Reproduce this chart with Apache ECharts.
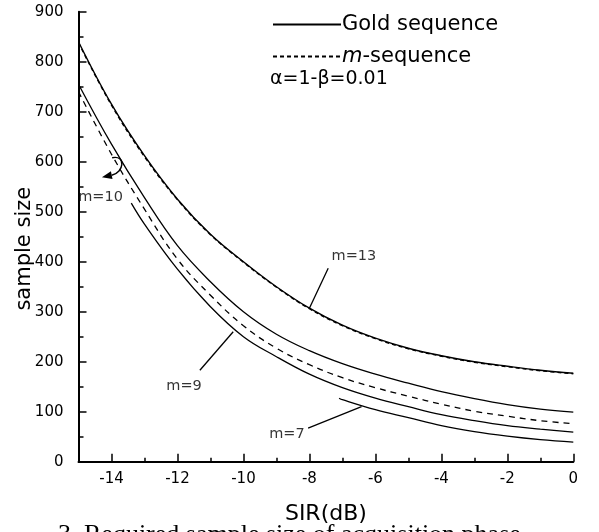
<!DOCTYPE html>
<html>
<head>
<meta charset="utf-8">
<script src="https://cdn.jsdelivr.net/npm/echarts@6/dist/echarts.min.js"></script>
<style>html,body{margin:0;padding:0;background:#fff}#c{width:599px;height:532px}</style>
</head>
<body>
<div id="c"></div>
<script>
// ---- data ----
const sirX      = [-15,-14,-13,-12,-11,-10,-9,-8,-7,-6,-5,-4,-3,-2,-1,0];
const goldM13   = [840,715,612,525,455,400,350,307,273,247,227,212,200,191,183,177];
const mseqM13   = [838,713,610,524,454,399,349,306,272,246,226,211,199,190,182,176];
const goldM10   = [755,635,528,432,360,300,255,222,196,175,157,140,126,114,105,99];
const mseqM10   = [740,615,505,405,333,272,227,194,168,148,131,115,101,91,82,76];
const goldM9X   = [-13.4,-13,-12,-11,-10,-9,-8,-7,-6,-5,-4,-3,-2,-1,0];
const goldM9    = [517,475,385,310,250,210,175,148,127,110,94,82,72,65,59];
const goldM7X   = [-7.1,-7,-6,-5,-4,-3,-2,-1,0];
const goldM7    = [127,124,104,88,72,60,51,44,39];

const xMajorTicks = [-14,-12,-10,-8,-6,-4,-2,0];
const xMinorTicks = [-15,-13,-11,-9,-7,-5,-3,-1];

const annoText  = ['m=13','m=10','m=9','m=7'];
const annoX     = [-6.65,-14.33,-11.8,-8.68];
const annoY     = [410,528,151,55];
// straight arrows (m=13, m=9, m=7), data coordinates
const arrowFromX= [-7.43,-11.32,-8.04];
const arrowFromY= [387,183,67];
const arrowToX  = [-8.0,-10.31,-6.42];
const arrowToY  = [307,260,110];
// hooked arrow (m=10): start, two control points, end, in data coordinates
const hookX     = [-13.98,-13.55,-13.62,-14.29];
const hookY     = [608,614,578,569];

const captionText = '3. Required sample size of acquisition phase';

const FONT = 'DejaVu Sans';
const pair = (xs, ys) => xs.map((x, i) => [x, ys[i]]);

const chart = echarts.init(document.getElementById('c'), null, {renderer:'canvas'});
const lineBase = {type:'line', showSymbol:false, symbol:'none', smooth:0.4, z:3, silent:true, animation:false, color:'#000', itemStyle:{color:'#000'}};

chart.setOption({
  animation:false,
  backgroundColor:'#fff',
  textStyle:{fontFamily:FONT, color:'#000'},
  grid:{left:78.5, right:25.7, top:11.7, bottom:70.3, containLabel:false},
  legend:{
    data:['Gold sequence','m-sequence'],
    orient:'vertical', left:267, top:7, itemWidth:68, itemHeight:14, itemGap:7,
    selectedMode:false,
    itemStyle:{opacity:0},
    formatter: n => n === 'm-sequence' ? '{i|m}-sequence' : n,
    textStyle:{fontFamily:FONT, fontSize:21, color:'#000', lineHeight:25, padding:[0,0,0,-4],
      rich:{i:{fontFamily:FONT, fontSize:21, fontStyle:'italic', color:'#000'}}}
  },
  xAxis:[{
    type:'value', min:-15, max:0,
    name:'SIR(dB)', nameLocation:'middle', nameGap:42, nameMoveOverlap:false,
    nameTextStyle:{fontFamily:FONT, fontSize:22, color:'#000'},
    axisLine:{show:true, onZero:false, lineStyle:{color:'#000', width:2}},
    axisTick:{show:true, inside:true, length:8, lineStyle:{color:'#000', width:1.5}, customValues:xMajorTicks},
    axisLabel:{show:true, margin:10, fontFamily:FONT, fontSize:15, color:'#000', customValues:xMajorTicks},
    splitLine:{show:false}
  },{
    type:'value', min:-15, max:0, position:'bottom',
    axisLine:{show:false},
    axisTick:{show:true, inside:true, length:4, lineStyle:{color:'#000', width:1.5}, customValues:xMinorTicks},
    axisLabel:{show:false},
    splitLine:{show:false}
  }],
  yAxis:{
    type:'value', min:0, max:900, interval:100,
    name:'sample size', nameLocation:'middle', nameGap:43, nameRotate:90, nameMoveOverlap:false,
    nameTextStyle:{fontFamily:FONT, fontSize:21, color:'#000', padding:[0,24,0,0]},
    axisLine:{show:true, onZero:false, lineStyle:{color:'#000', width:2}},
    axisTick:{show:true, inside:true, length:8, lineStyle:{color:'#000', width:1.5}},
    minorTick:{show:true, splitNumber:2, length:5, lineStyle:{color:'#000', width:1.5}},
    axisLabel:{margin:15, fontFamily:FONT, fontSize:15, color:'#000'},
    splitLine:{show:false}
  },
  series:[
    Object.assign({}, lineBase, {name:'Gold sequence', data:pair(sirX, goldM13), lineStyle:{color:'#000', width:1.4, type:'solid'}}),
    Object.assign({}, lineBase, {name:'m-sequence', data:pair(sirX, mseqM13), lineStyle:{color:'#000', width:1.4, type:[4,3]}}),
    Object.assign({}, lineBase, {name:'Gold sequence', data:pair(sirX, goldM10), lineStyle:{color:'#000', width:1.3, type:'solid'}}),
    Object.assign({}, lineBase, {name:'m-sequence', data:pair(sirX, mseqM10), lineStyle:{color:'#000', width:1.3, type:[6,5]}}),
    Object.assign({}, lineBase, {name:'Gold sequence', data:pair(goldM9X, goldM9), lineStyle:{color:'#000', width:1.3, type:'solid'}}),
    Object.assign({}, lineBase, {name:'Gold sequence', data:pair(goldM7X, goldM7), lineStyle:{color:'#000', width:1.3, type:'solid'}}),
    {
      name:'annotations', type:'scatter', symbolSize:0, silent:true, z:5,
      data: annoText.map((t, i) => ({value:[annoX[i], annoY[i]], name:t})),
      label:{show:true, position:'inside', formatter:p => p.name, fontFamily:FONT, fontSize:14.5, color:'#000'},
      markLine:{
        silent:true, symbol:['none','arrow'], symbolSize:[0,9],
        label:{show:false},
        lineStyle:{color:'#000', width:1.3, type:'solid'},
        data: arrowFromX.map((x, i) => [
          {coord:[x, arrowFromY[i]]},
          {coord:[arrowToX[i], arrowToY[i]]}
        ])
      }
    }
  ]
});

// hooked arrow and figure caption, positioned from the chart's own scales
const px = (x, y) => chart.convertToPixel({gridIndex:0}, [x, y]);
const h = hookX.map((x, i) => px(x, hookY[i]));
const end = h[3], cp = h[2];
const dx = end[0] - cp[0], dy = end[1] - cp[1];
const len = Math.hypot(dx, dy), ux = dx / len, uy = dy / len;
const headL = 10, headW = 4;
const base = [end[0] - ux * headL, end[1] - uy * headL];
chart.setOption({
  graphic:[
    {type:'text', left:270, top:70, z:10,
     style:{text:'α=1-β=0.01', fontFamily:FONT, fontSize:19, fill:'#000'}},
    {type:'bezierCurve', z:10, silent:true,
     shape:{x1:h[0][0], y1:h[0][1], cpx1:h[1][0], cpy1:h[1][1], cpx2:h[2][0], cpy2:h[2][1], x2:base[0], y2:base[1]},
     style:{stroke:'#000', lineWidth:1.4, fill:null}},
    {type:'polygon', z:10, silent:true,
     shape:{points:[end, [base[0] - uy * headW, base[1] + ux * headW], [base[0] + uy * headW, base[1] - ux * headW]]},
     style:{fill:'#000'}},
    {type:'text', z:10, silent:true,
     style:{x:58, y:548, text:captionText, verticalAlign:'bottom', fontFamily:'Liberation Serif', fontSize:26, fill:'#000'}}
  ]
});
</script>
</body>
</html>
